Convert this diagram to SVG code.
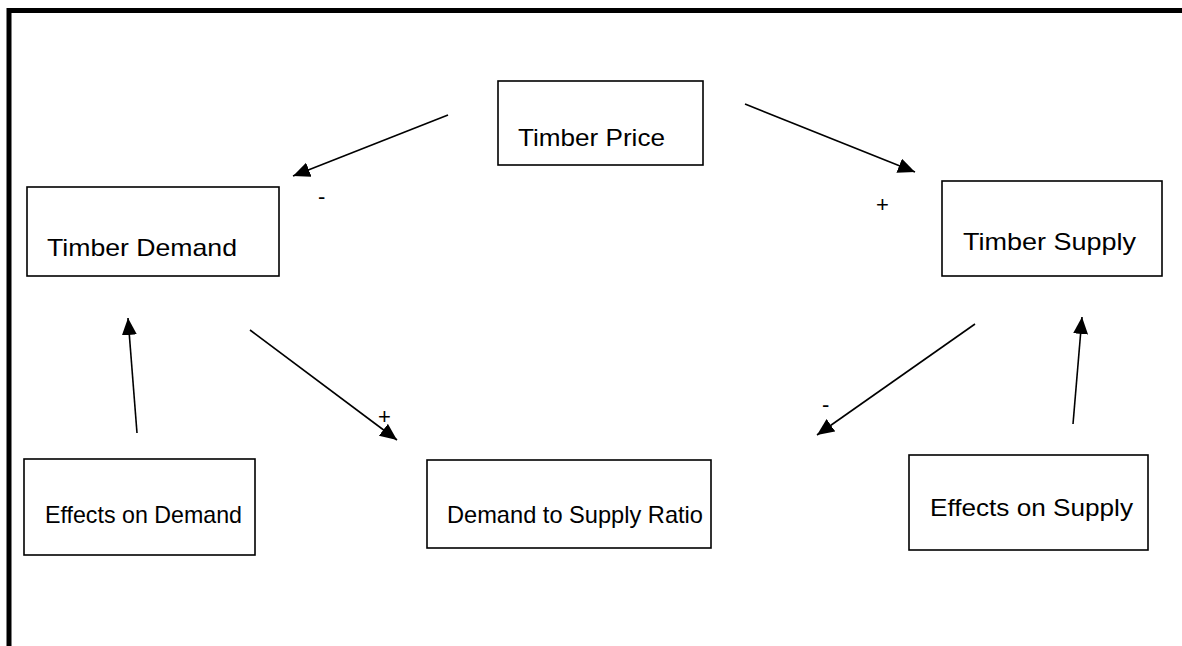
<svg xmlns="http://www.w3.org/2000/svg" width="1182" height="646" viewBox="0 0 1182 646">
<style>
.box{fill:#fff;stroke:#000;stroke-width:1.6}
.lbl{font-family:"Liberation Sans",Arial,sans-serif;font-size:24px;fill:#000}
.sign{font-family:"Liberation Sans",Arial,sans-serif;font-size:22px;fill:#000}
.conn{stroke:#000;stroke-width:1.6;fill:none}
</style>
<defs>
<marker id="ah" markerUnits="userSpaceOnUse" markerWidth="18" markerHeight="16" refX="17" refY="7.5" orient="auto">
<path d="M0,0 L17,7.5 L0,15 z" fill="#000"/>
</marker>
</defs>
<rect x="0" y="0" width="1182" height="646" fill="#fff"/>
<rect x="9" y="10.5" width="1200" height="700" fill="none" stroke="#000" stroke-width="5"/>
<g id="timber-price"><rect class="box" x="498" y="81" width="205" height="84"/><text class="lbl" x="518" y="146" textLength="147" lengthAdjust="spacingAndGlyphs">Timber Price</text></g>
<g id="timber-demand"><rect class="box" x="27" y="187" width="252" height="89"/><text class="lbl" x="47" y="256" textLength="190" lengthAdjust="spacingAndGlyphs">Timber Demand</text></g>
<g id="timber-supply"><rect class="box" x="942" y="181" width="220" height="95"/><text class="lbl" x="963" y="250" textLength="173" lengthAdjust="spacingAndGlyphs">Timber Supply</text></g>
<g id="effects-demand"><rect class="box" x="24" y="459" width="231" height="96"/><text class="lbl" x="45" y="523" textLength="197" lengthAdjust="spacingAndGlyphs">Effects on Demand</text></g>
<g id="ratio"><rect class="box" x="427" y="460" width="284" height="88"/><text class="lbl" x="447" y="523" textLength="256" lengthAdjust="spacingAndGlyphs">Demand to Supply Ratio</text></g>
<g id="effects-supply"><rect class="box" x="909" y="455" width="239" height="95"/><text class="lbl" x="930" y="516" textLength="203" lengthAdjust="spacingAndGlyphs">Effects on Supply</text></g>
<g id="connectors">
<line class="conn" x1="448" y1="115" x2="293" y2="176" marker-end="url(#ah)"/>
<line class="conn" x1="745" y1="104" x2="915" y2="172" marker-end="url(#ah)"/>
<line class="conn" x1="250" y1="330" x2="397" y2="440" marker-end="url(#ah)"/>
<line class="conn" x1="975" y1="324" x2="817" y2="435" marker-end="url(#ah)"/>
<line class="conn" x1="137" y1="433" x2="128" y2="318" marker-end="url(#ah)"/>
<line class="conn" x1="1073" y1="424" x2="1082" y2="317" marker-end="url(#ah)"/>
<text class="sign" x="318" y="204">-</text>
<text class="sign" x="876" y="212">+</text>
<text class="sign" x="378" y="424">+</text>
<text class="sign" x="822" y="412">-</text>
</g>
</svg>
